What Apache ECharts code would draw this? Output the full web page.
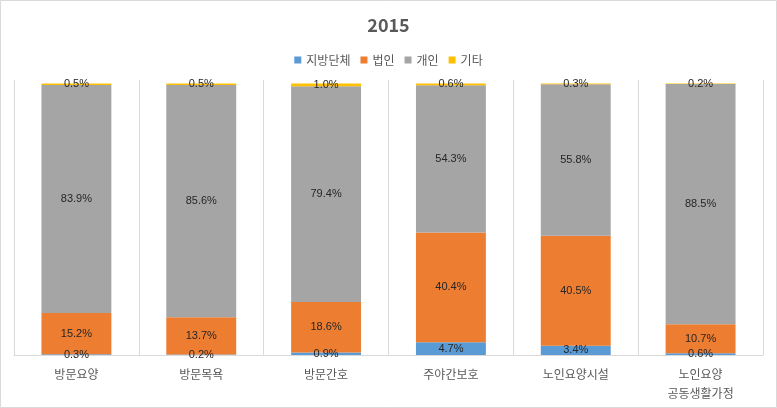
<!DOCTYPE html>
<html>
<head>
<meta charset="utf-8">
<script src="https://cdn.jsdelivr.net/npm/echarts@6/dist/echarts.min.js"></script>
<style>
html,body{margin:0;padding:0;background:#fff;}
#c{width:777px;height:408px;}
</style>
</head>
<body>
<div id="c"></div>
<script>
const categories = ['방문요양', '방문목욕', '방문간호', '주야간보호', '노인요양시설', '노인요양\n공동생활가정'];
const seriesNames = ['지방단체', '법인', '개인', '기타'];
const localGov = [0.3, 0.2, 0.9, 4.7, 3.4, 0.6];
const corporation = [15.2, 13.7, 18.6, 40.4, 40.5, 10.7];
const individual = [83.9, 85.6, 79.4, 54.3, 55.8, 88.5];
const other = [0.5, 0.5, 1.0, 0.6, 0.3, 0.2];
const colors = ['#5B9BD5', '#ED7D31', '#A5A5A5', '#FFC000'];
const dataSets = [localGov, corporation, individual, other];
// 100% stacked: share of each category total
const totals = categories.map((c, j) => dataSets.reduce((s, d) => s + d[j], 0));

const chart = echarts.init(document.getElementById('c'));
const font = "'Noto Sans CJK KR', 'Noto Sans', sans-serif";
chart.setOption({
  animation: false,
  color: colors,
  title: {
    text: '2015',
    left: 'center',
    top: 11,
    textStyle: {fontSize: 18, fontWeight: 'bold', color: '#595959', fontFamily: font}
  },
  legend: {
    data: seriesNames,
    top: 49,
    left: 'center',
    itemWidth: 7,
    itemHeight: 7,
    itemGap: 10,
    icon: 'rect',
    textStyle: {fontSize: 12, color: '#595959', fontFamily: font}
  },
  grid: {left: 14, right: 14, top: 80, bottom: 53},
  xAxis: {
    type: 'category',
    data: categories,
    axisTick: {show: false},
    axisLine: {lineStyle: {color: '#d9d9d9'}},
    splitLine: {show: true, lineStyle: {color: '#d9d9d9'}},
    axisLabel: {fontSize: 12, color: '#595959', fontFamily: font, margin: 10, lineHeight: 19, interval: 0}
  },
  yAxis: {
    type: 'value', min: 0, max: 101.3, show: false,
    splitLine: {show: false}
  },
  graphic: [{
    type: 'rect', shape: {x: 0.5, y: 0.5, width: 776, height: 407},
    style: {fill: 'none', stroke: '#d9d9d9', lineWidth: 1}, silent: true
  }],
  series: seriesNames.map((name, i) => ({
    name: name,
    type: 'bar',
    stack: 'total',
    barWidth: '56%',
    data: dataSets[i].map((v, j) => ({value: v / totals[j] * 100, raw: v})),
    itemStyle: {color: colors[i]},
    label: {
      show: true,
      position: 'inside',
      fontSize: 11,
      color: '#262626',
      fontFamily: "'Liberation Sans', sans-serif",
      formatter: p => p.data.raw.toFixed(1) + '%'
    }
  }))
});
</script>
</body>
</html>
